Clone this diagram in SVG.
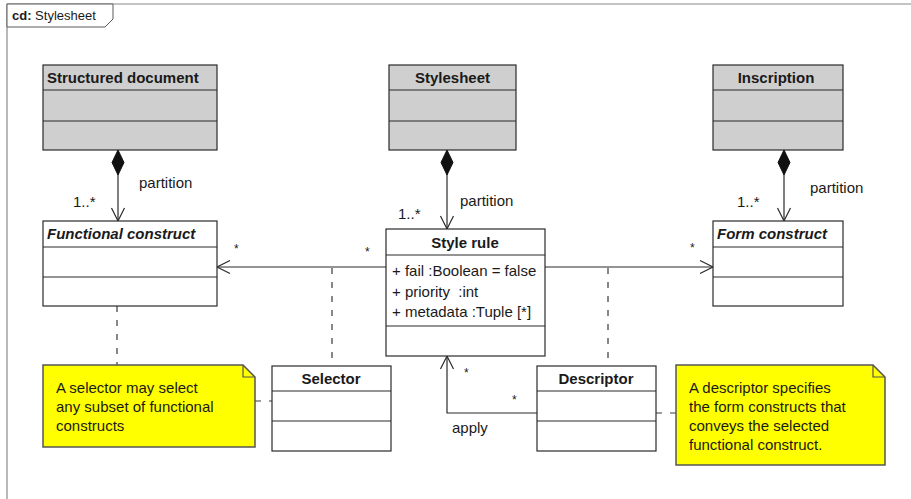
<svg xmlns="http://www.w3.org/2000/svg" width="911" height="499" viewBox="0 0 911 499">
  <style>
    text { font-family: "Liberation Sans", Arial, sans-serif; font-size: 15px; fill: #1a1a1a; }
    .b { font-weight: bold; }
    .bi { font-weight: bold; font-style: italic; }
    .mid { text-anchor: middle; }
    .star { font-size: 12px; }
    .frame { fill: none; stroke: #8a8a8a; stroke-width: 1.2; }
    .tab { fill: #ffffff; stroke: #5a5a5a; stroke-width: 1; }
    .cls { fill: #ffffff; stroke: #2a2a2a; stroke-width: 1.2; }
    .clsg { fill: #cfcfcf; stroke: #2a2a2a; stroke-width: 1.2; }
    .sep { stroke: #2a2a2a; stroke-width: 1.2; fill: none; }
    .note { fill: #ffff00; stroke: #555555; stroke-width: 1.5; }
    .fold { fill: none; stroke: #555555; stroke-width: 1.2; }
    .assoc { fill: none; stroke: #2a2a2a; stroke-width: 1.2; }
    .anchor { fill: none; stroke: #3a3a3a; stroke-width: 1.2; stroke-dasharray: 6 8; }
  </style>
  <defs>
    <marker id="open" markerUnits="userSpaceOnUse" markerWidth="20" markerHeight="20" refX="0" refY="0" orient="auto" overflow="visible">
      <path d="M-13,-6.5 L0,0 L-13,6.5" fill="none" stroke="#2a2a2a" stroke-width="1.2"/>
    </marker>
    <marker id="diamond" markerUnits="userSpaceOnUse" markerWidth="30" markerHeight="20" refX="0" refY="0" orient="auto" overflow="visible">
      <path d="M0,0 L12.5,-6 L25,0 L12.5,6 Z" fill="#111111" stroke="#111111" stroke-width="1"/>
    </marker>
  </defs>

  <rect width="911" height="499" fill="#ffffff"/>

  <!-- diagram frame -->
  <g id="frame">
    <path class="frame" d="M7,499 L7,4 L911,4"/>
    <path class="tab" d="M7,4 L113,4 L113,19 L105,27 L7,27 Z"/>
    <text x="12" y="20" style="font-size:13px"><tspan class="b">cd:</tspan> Stylesheet</text>
  </g>

  <!-- connectors -->
  <g id="connectors">
    <!-- composition: partition -->
    <line class="assoc" x1="118" y1="150" x2="118" y2="221" marker-start="url(#diamond)" marker-end="url(#open)"/>
    <line class="assoc" x1="447" y1="150" x2="447" y2="229" marker-start="url(#diamond)" marker-end="url(#open)"/>
    <line class="assoc" x1="784" y1="150" x2="784" y2="221" marker-start="url(#diamond)" marker-end="url(#open)"/>
    <text x="139" y="188">partition</text>
    <text x="73" y="207">1..*</text>
    <text x="460" y="206">partition</text>
    <text x="398" y="219">1..*</text>
    <text x="810" y="193">partition</text>
    <text x="737" y="207">1..*</text>

    <!-- Style rule to Functional construct / Form construct -->
    <line class="assoc" x1="386" y1="267" x2="217" y2="267" marker-end="url(#open)"/>
    <line class="assoc" x1="545" y1="267" x2="713" y2="267" marker-end="url(#open)"/>
    <text class="star" x="234" y="253">*</text>
    <text class="star" x="365" y="256">*</text>
    <text class="star" x="690" y="252">*</text>

    <!-- apply -->
    <polyline class="assoc" points="537,413 447,413 447,356" marker-end="url(#open)"/>
    <text class="star" x="464" y="377">*</text>
    <text class="star" x="512" y="404">*</text>
    <text x="452" y="433">apply</text>

    <!-- association-class and note anchors -->
    <line class="anchor" x1="332" y1="268" x2="332" y2="366"/>
    <line class="anchor" x1="608" y1="268" x2="608" y2="366"/>
    <line class="anchor" x1="117" y1="306" x2="117" y2="365"/>
    <line class="anchor" x1="255" y1="401" x2="272" y2="401"/>
    <line class="anchor" x1="656" y1="413" x2="676" y2="413"/>
  </g>

  <!-- classes -->
  <g id="structured-document">
    <rect class="clsg" x="43" y="65" width="174" height="85"/>
    <line class="sep" x1="43" y1="90" x2="217" y2="90"/>
    <line class="sep" x1="43" y1="121" x2="217" y2="121"/>
    <text class="b" x="47" y="83">Structured document</text>
  </g>

  <g id="stylesheet">
    <rect class="clsg" x="389" y="65" width="127" height="85"/>
    <line class="sep" x1="389" y1="90" x2="516" y2="90"/>
    <line class="sep" x1="389" y1="121" x2="516" y2="121"/>
    <text class="b mid" x="452.5" y="83">Stylesheet</text>
  </g>

  <g id="inscription">
    <rect class="clsg" x="713" y="65" width="130" height="85"/>
    <line class="sep" x1="713" y1="90" x2="843" y2="90"/>
    <line class="sep" x1="713" y1="121" x2="843" y2="121"/>
    <text class="b mid" x="776" y="83">Inscription</text>
  </g>

  <g id="functional-construct">
    <rect class="cls" x="43" y="221" width="174" height="85"/>
    <line class="sep" x1="43" y1="247" x2="217" y2="247"/>
    <line class="sep" x1="43" y1="277" x2="217" y2="277"/>
    <text class="bi" x="47" y="239">Functional construct</text>
  </g>

  <g id="form-construct">
    <rect class="cls" x="713" y="221" width="130" height="85"/>
    <line class="sep" x1="713" y1="247" x2="843" y2="247"/>
    <line class="sep" x1="713" y1="277" x2="843" y2="277"/>
    <text class="bi" x="717" y="239">Form construct</text>
  </g>

  <g id="style-rule">
    <rect class="cls" x="386" y="229" width="159" height="127"/>
    <line class="sep" x1="386" y1="255" x2="545" y2="255"/>
    <line class="sep" x1="386" y1="326" x2="545" y2="326"/>
    <text class="b mid" x="465" y="248">Style rule</text>
    <text x="392" y="276" xml:space="preserve">+ fail :Boolean = false</text>
    <text x="392" y="297" xml:space="preserve">+ priority  :int</text>
    <text x="392" y="317" xml:space="preserve">+ metadata :Tuple [*]</text>
  </g>

  <g id="selector">
    <rect class="cls" x="272" y="366" width="119" height="85"/>
    <line class="sep" x1="272" y1="391" x2="391" y2="391"/>
    <line class="sep" x1="272" y1="421" x2="391" y2="421"/>
    <text class="b mid" x="331" y="384">Selector</text>
  </g>

  <g id="descriptor">
    <rect class="cls" x="537" y="366" width="119" height="85"/>
    <line class="sep" x1="537" y1="391" x2="656" y2="391"/>
    <line class="sep" x1="537" y1="421" x2="656" y2="421"/>
    <text class="b mid" x="596" y="384">Descriptor</text>
  </g>

  <!-- notes -->
  <g id="note-selector">
    <path class="note" d="M43,365 L243,365 L255,377 L255,447 L43,447 Z"/>
    <path class="fold" d="M243,365 L243,377 L255,377"/>
    <text x="56" y="393">A selector may select</text>
    <text x="56" y="412">any subset of functional</text>
    <text x="56" y="431">constructs</text>
  </g>

  <g id="note-descriptor">
    <path class="note" d="M676,365 L873,365 L885,377 L885,465 L676,465 Z"/>
    <path class="fold" d="M873,365 L873,377 L885,377"/>
    <text x="689" y="393">A descriptor specifies</text>
    <text x="689" y="412">the form constructs that</text>
    <text x="689" y="431">conveys the selected</text>
    <text x="689" y="450">functional construct.</text>
  </g>
</svg>
